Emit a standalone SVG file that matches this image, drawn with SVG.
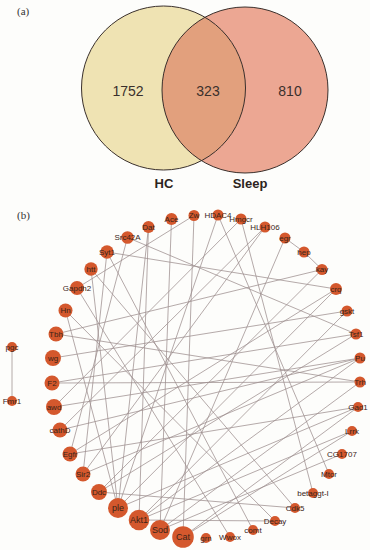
<svg xmlns="http://www.w3.org/2000/svg" width="370" height="550" viewBox="0 0 370 550">
<style>
.pl{font-family:"Liberation Serif","DejaVu Serif",serif;font-size:11px;fill:#333}
.num{font-family:"Liberation Sans",Arial,sans-serif;font-size:14px;fill:#3a302c;text-anchor:middle}
.set{font-family:"Liberation Sans",Arial,sans-serif;font-size:13px;font-weight:bold;fill:#2c2420;text-anchor:middle}
.ring{fill:none;stroke:#3a302c;stroke-width:1}
.e{stroke:#9c8e8e;stroke-width:0.75;fill:none}
.n circle{fill:#d4582d}
.n text{font-family:"Liberation Sans",Arial,sans-serif;font-size:8px;fill:#3a2418;text-anchor:middle;dominant-baseline:central}
.n.big text{font-size:9px}
</style>
<rect width="370" height="550" fill="#fdfdfb"/>
<text class="pl" x="17" y="15">(a)</text>
<g id="venn">
<circle cx="163.5" cy="88" r="82" fill="#efe3b3"/>
<circle cx="245" cy="90" r="83" fill="#eca793"/>
<path d="M205,17.3 A82,82 0 0 1 201.5,160.7 A83,83 0 0 1 205,17.3 Z" fill="#e2a07d"/>
<circle class="ring" cx="163.5" cy="88" r="82"/>
<circle class="ring" cx="245" cy="90" r="83"/>
<text class="num" x="128" y="96">1752</text>
<text class="num" x="208" y="96">323</text>
<text class="num" x="290" y="96">810</text>
<text class="set" x="164" y="188">HC</text>
<text class="set" x="250" y="188">Sleep</text>
</g>
<text class="pl" x="17" y="219">(b)</text>
<g id="edges">
<line class="e" x1="12" y1="347" x2="12" y2="401"/>
<line class="e" x1="285" y1="238" x2="304" y2="252"/>
<line class="e" x1="304" y1="252" x2="322" y2="269.5"/>
<line class="e" x1="194" y1="215.5" x2="183" y2="537"/>
<line class="e" x1="77" y1="288" x2="194" y2="215.5"/>
<line class="e" x1="107" y1="252" x2="336" y2="289"/>
<line class="e" x1="127.5" y1="237.5" x2="356" y2="334"/>
<line class="e" x1="218" y1="215" x2="329" y2="474"/>
<line class="e" x1="241" y1="219" x2="313" y2="493"/>
<line class="e" x1="56" y1="334" x2="360" y2="382"/>
<line class="e" x1="53" y1="358" x2="347" y2="311"/>
<line class="e" x1="265" y1="227" x2="83" y2="474"/>
<line class="e" x1="285" y1="238" x2="160" y2="530"/>
<line class="e" x1="322" y1="269.5" x2="99" y2="492"/>
<line class="e" x1="148.5" y1="227" x2="139" y2="520"/>
<line class="e" x1="360" y1="358" x2="54" y2="407"/>
<line class="e" x1="52" y1="383" x2="360" y2="382"/>
<line class="e" x1="358" y1="407" x2="118" y2="508"/>
<line class="e" x1="352" y1="431" x2="139" y2="520"/>
<line class="e" x1="342" y1="454" x2="160" y2="530"/>
<line class="e" x1="91" y1="269" x2="295" y2="508"/>
<line class="e" x1="107" y1="252" x2="253" y2="530"/>
<line class="e" x1="275" y1="521" x2="139" y2="520"/>
<line class="e" x1="171.5" y1="219" x2="160" y2="530"/>
<line class="e" x1="60" y1="430" x2="360" y2="358"/>
<line class="e" x1="70" y1="454" x2="358" y2="407"/>
<line class="e" x1="218" y1="215" x2="118" y2="508"/>
<line class="e" x1="336" y1="289" x2="118" y2="508"/>
<line class="e" x1="347" y1="311" x2="139" y2="520"/>
<line class="e" x1="148.5" y1="227" x2="118" y2="508"/>
<line class="e" x1="127.5" y1="237.5" x2="70" y2="454"/>
<line class="e" x1="107" y1="252" x2="83" y2="474"/>
<line class="e" x1="91" y1="269" x2="118" y2="508"/>
<line class="e" x1="77" y1="288" x2="230" y2="537"/>
<line class="e" x1="65.5" y1="310.5" x2="118" y2="508"/>
<line class="e" x1="56" y1="334" x2="322" y2="269.5"/>
<line class="e" x1="99" y1="492" x2="356" y2="334"/>
<line class="e" x1="139" y1="520" x2="360" y2="358"/>
<line class="e" x1="160" y1="530" x2="360" y2="382"/>
<line class="e" x1="183" y1="537" x2="352" y2="431"/>
<line class="e" x1="83" y1="474" x2="360" y2="358"/>
<line class="e" x1="70" y1="454" x2="336" y2="289"/>
<line class="e" x1="54" y1="407" x2="241" y2="219"/>
<line class="e" x1="60" y1="430" x2="265" y2="227"/>
<line class="e" x1="99" y1="492" x2="295" y2="508"/>
<line class="e" x1="52" y1="383" x2="356" y2="334"/>
<line class="e" x1="65.5" y1="310.5" x2="275" y2="521"/>
<line class="e" x1="183" y1="537" x2="358" y2="407"/>
</g>
<g id="n-Ace" class="n"><circle cx="171.5" cy="219" r="6"/><text x="171.5" y="219">Ace</text></g>
<g id="n-Zw" class="n"><circle cx="194" cy="215.5" r="5.5"/><text x="194" y="215.5">Zw</text></g>
<g id="n-HDAC4" class="n"><circle cx="218" cy="215" r="5.5"/><text x="218" y="215">HDAC4</text></g>
<g id="n-Hmgcr" class="n"><circle cx="241" cy="219" r="5.5"/><text x="241" y="219">Hmgcr</text></g>
<g id="n-HLH106" class="n"><circle cx="265" cy="227" r="5.5"/><text x="265" y="227">HLH106</text></g>
<g id="n-egr" class="n"><circle cx="285" cy="238" r="5.5"/><text x="285" y="238">egr</text></g>
<g id="n-hep" class="n"><circle cx="304" cy="252" r="5.5"/><text x="304" y="252">hep</text></g>
<g id="n-kay" class="n"><circle cx="322" cy="269.5" r="5.5"/><text x="322" y="269.5">kay</text></g>
<g id="n-crq" class="n"><circle cx="336" cy="289" r="6"/><text x="336" y="289">crq</text></g>
<g id="n-gskt" class="n"><circle cx="347" cy="311" r="5.5"/><text x="347" y="311">gskt</text></g>
<g id="n-Tsf1" class="n"><circle cx="356" cy="334" r="5.5"/><text x="356" y="334">Tsf1</text></g>
<g id="n-Pu" class="n"><circle cx="360" cy="358" r="5.5"/><text x="360" y="358">Pu</text></g>
<g id="n-Trh" class="n"><circle cx="360" cy="382" r="5.5"/><text x="360" y="382">Trh</text></g>
<g id="n-Gad1" class="n"><circle cx="358" cy="407" r="5"/><text x="358" y="407">Gad1</text></g>
<g id="n-Lrrk" class="n"><circle cx="352" cy="431" r="5"/><text x="352" y="431">Lrrk</text></g>
<g id="n-CG1707" class="n"><circle cx="342" cy="454" r="5"/><text x="342" y="454">CG1707</text></g>
<g id="n-Mtor" class="n"><circle cx="329" cy="474" r="5"/><text x="329" y="474">Mtor</text></g>
<g id="n-betaggt-I" class="n"><circle cx="313" cy="493" r="5"/><text x="313" y="493">betaggt-I</text></g>
<g id="n-Cdk5" class="n"><circle cx="295" cy="508" r="5"/><text x="295" y="508">Cdk5</text></g>
<g id="n-Decay" class="n"><circle cx="275" cy="521" r="5"/><text x="275" y="521">Decay</text></g>
<g id="n-comt" class="n"><circle cx="253" cy="530" r="5"/><text x="253" y="530">comt</text></g>
<g id="n-Wwox" class="n"><circle cx="230" cy="537" r="5"/><text x="230" y="537">Wwox</text></g>
<g id="n-grn" class="n"><circle cx="206" cy="538" r="5"/><text x="206" y="538">grn</text></g>
<g id="n-Cat" class="n big"><circle cx="183" cy="537" r="10.8"/><text x="183" y="537">Cat</text></g>
<g id="n-Sod" class="n big"><circle cx="160" cy="530" r="10"/><text x="160" y="530">Sod</text></g>
<g id="n-Akt1" class="n big"><circle cx="139" cy="520" r="10.3"/><text x="139" y="520">Akt1</text></g>
<g id="n-ple" class="n big"><circle cx="118" cy="508" r="10"/><text x="118" y="508">ple</text></g>
<g id="n-Ddc" class="n"><circle cx="99" cy="492" r="8"/><text x="99" y="492">Ddc</text></g>
<g id="n-Sir2" class="n"><circle cx="83" cy="474" r="7.5"/><text x="83" y="474">Sir2</text></g>
<g id="n-Egfr" class="n"><circle cx="70" cy="454" r="7.5"/><text x="70" y="454">Egfr</text></g>
<g id="n-cathD" class="n"><circle cx="60" cy="430" r="7.5"/><text x="60" y="430">cathD</text></g>
<g id="n-awd" class="n"><circle cx="54" cy="407" r="8"/><text x="54" y="407">awd</text></g>
<g id="n-F2" class="n"><circle cx="52" cy="383" r="7.5"/><text x="52" y="383">F2</text></g>
<g id="n-wg" class="n"><circle cx="53" cy="358" r="8"/><text x="53" y="358">wg</text></g>
<g id="n-Tbh" class="n"><circle cx="56" cy="334" r="7.5"/><text x="56" y="334">Tbh</text></g>
<g id="n-Hn" class="n"><circle cx="65.5" cy="310.5" r="7"/><text x="65.5" y="310.5">Hn</text></g>
<g id="n-Gapdh2" class="n"><circle cx="77" cy="288" r="7"/><text x="77" y="288">Gapdh2</text></g>
<g id="n-htt" class="n"><circle cx="91" cy="269" r="6.7"/><text x="91" y="269">htt</text></g>
<g id="n-Syt1" class="n"><circle cx="107" cy="252" r="6.7"/><text x="107" y="252">Syt1</text></g>
<g id="n-Src42A" class="n"><circle cx="127.5" cy="237.5" r="6.3"/><text x="127.5" y="237.5">Src42A</text></g>
<g id="n-Dat" class="n"><circle cx="148.5" cy="227" r="6"/><text x="148.5" y="227">Dat</text></g>
<g id="n-pgc" class="n"><circle cx="12" cy="347" r="5"/><text x="12" y="347">pgc</text></g>
<g id="n-Fmr1" class="n"><circle cx="12" cy="401" r="5"/><text x="12" y="401">Fmr1</text></g>
</svg>
